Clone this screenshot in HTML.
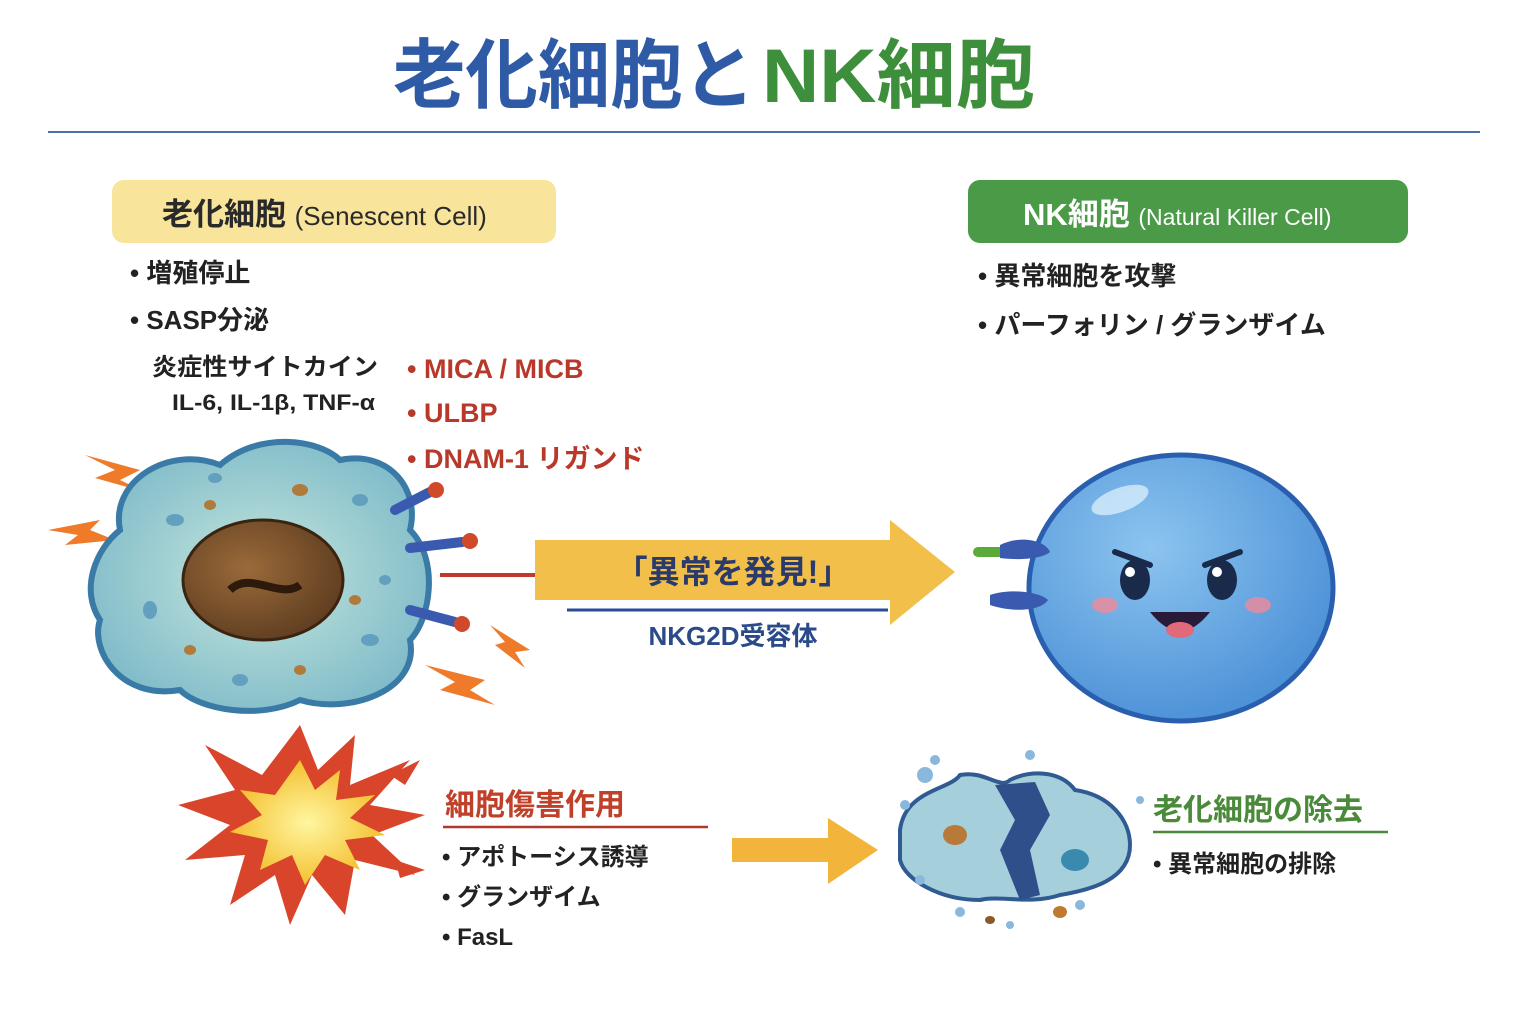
<!DOCTYPE html>
<html><head><meta charset="utf-8"><style>
html,body{margin:0;padding:0;background:#fff;}
svg{display:block;font-family:"Liberation Sans","Noto Sans CJK JP",sans-serif;}
</style></head><body>
<svg width="1534" height="1014" viewBox="0 0 1534 1014" xmlns="http://www.w3.org/2000/svg">
<defs>
<radialGradient id="nk" cx="0.4" cy="0.35" r="0.7"><stop offset="0" stop-color="#8cc4ef"/><stop offset="1" stop-color="#4a8fd6"/></radialGradient>
<radialGradient id="sc" cx="0.5" cy="0.5" r="0.6"><stop offset="0" stop-color="#c6e6dc"/><stop offset="1" stop-color="#7ab8c8"/></radialGradient>
<radialGradient id="nuc" cx="0.4" cy="0.4" r="0.7"><stop offset="0" stop-color="#9a6a3a"/><stop offset="1" stop-color="#5a3a1e"/></radialGradient>
<radialGradient id="boom" cx="0.5" cy="0.5" r="0.5"><stop offset="0" stop-color="#fff6a0"/><stop offset="1" stop-color="#f4c030"/></radialGradient>
</defs>
<text x="393" y="102" font-size="76" font-weight="bold" fill="#2f5aa6" textLength="362" lengthAdjust="spacingAndGlyphs">老化細胞と</text>
<text x="762" y="102" font-size="76" font-weight="bold" fill="#3e8f3c" textLength="273" lengthAdjust="spacingAndGlyphs">NK細胞</text>
<line x1="48" y1="132" x2="1480" y2="132" stroke="#4a6fb0" stroke-width="2"/>

<rect x="112" y="180" width="444" height="63" rx="12" fill="#f8e49a"/>
<text x="162" y="225" font-size="31" font-weight="bold" fill="#2a2a2a">老化細胞 <tspan font-size="26" font-weight="normal">(Senescent Cell)</tspan></text>
<rect x="968" y="180" width="440" height="63" rx="12" fill="#4a9a48"/>
<text x="1023" y="225" font-size="31" font-weight="bold" fill="#fff">NK細胞 <tspan font-size="23" font-weight="normal">(Natural Killer Cell)</tspan></text>

<g font-weight="bold" fill="#222">
<text x="130" y="282" font-size="26">• 増殖停止</text>
<text x="130" y="329" font-size="26">• SASP分泌</text>
<text x="152" y="375" font-size="24" textLength="226" lengthAdjust="spacingAndGlyphs">炎症性サイトカイン</text>
<text x="172" y="410" font-size="22" textLength="203" lengthAdjust="spacingAndGlyphs">IL-6, IL-1β, TNF-α</text>
</g>
<g font-weight="bold" fill="#b8382a" font-size="27">
<text x="407" y="378">• MICA / MICB</text>
<text x="407" y="422">• ULBP</text>
<text x="407" y="468">• DNAM-1 リガンド</text>
</g>
<g font-weight="bold" fill="#222" font-size="26">
<text x="978" y="285">• 異常細胞を攻撃</text>
<text x="978" y="334">• パーフォリン / グランザイム</text>
</g>

<g fill="#ee7a2a">
<polygon points="85,455 140,470 120,480 145,492 95,478 115,470"/>
<polygon points="48,530 100,520 90,530 115,540 65,545 78,535"/>
<polygon points="490,625 530,650 515,652 525,668 495,645 505,642"/>
<polygon points="425,665 485,680 470,690 495,705 440,690 455,682"/>
</g>

<path d="M120,530 C110,480 170,445 220,465 C260,430 320,440 340,460 C390,450 420,490 410,530 C440,560 430,620 410,640 C420,690 350,715 300,700 C260,720 200,710 180,690 C120,700 90,650 100,620 C80,590 95,550 120,530 Z" fill="url(#sc)" stroke="#3a7aa6" stroke-width="6"/>
<g fill="#5a98bc" opacity="0.85">
<ellipse cx="175" cy="520" rx="9" ry="6"/><ellipse cx="360" cy="500" rx="8" ry="6"/><ellipse cx="150" cy="610" rx="7" ry="9"/><ellipse cx="370" cy="640" rx="9" ry="6"/><ellipse cx="240" cy="680" rx="8" ry="6"/><ellipse cx="330" cy="560" rx="6" ry="8"/><ellipse cx="215" cy="478" rx="7" ry="5"/><ellipse cx="385" cy="580" rx="6" ry="5"/>
</g>
<g fill="#b07a3a"><ellipse cx="300" cy="490" rx="8" ry="6"/><ellipse cx="210" cy="505" rx="6" ry="5"/><ellipse cx="355" cy="600" rx="6" ry="5"/><ellipse cx="190" cy="650" rx="6" ry="5"/><ellipse cx="300" cy="670" rx="6" ry="5"/></g>
<ellipse cx="263" cy="580" rx="80" ry="60" fill="url(#nuc)" stroke="#3a2410" stroke-width="3"/>
<path d="M230,590 C250,570 280,600 300,585" stroke="#2e1a0a" stroke-width="8" fill="none"/>
<g stroke-linecap="round">
<line x1="395" y1="510" x2="430" y2="492" stroke="#3a5ab0" stroke-width="10"/><circle cx="436" cy="490" r="8" fill="#d04a2a"/>
<line x1="410" y1="548" x2="462" y2="542" stroke="#3a5ab0" stroke-width="10"/><circle cx="470" cy="541" r="8" fill="#d04a2a"/>
<line x1="410" y1="610" x2="455" y2="622" stroke="#3a5ab0" stroke-width="10"/><circle cx="462" cy="624" r="8" fill="#d04a2a"/>
</g>
<line x1="440" y1="575" x2="555" y2="575" stroke="#c0392b" stroke-width="4"/>

<polygon points="535,540 890,540 890,520 955,572 890,625 890,600 535,600" fill="#f2c04a"/>
<text x="733" y="583" font-size="32" font-weight="bold" fill="#2a3a6a" text-anchor="middle">「異常を発見!」</text>
<line x1="567" y1="610" x2="888" y2="610" stroke="#2a4a9a" stroke-width="3"/>
<text x="733" y="645" font-size="26" font-weight="bold" fill="#2a4a8a" text-anchor="middle">NKG2D受容体</text>

<ellipse cx="1181" cy="588" rx="152" ry="133" fill="url(#nk)" stroke="#2a5fb0" stroke-width="5"/>
<ellipse cx="1120" cy="500" rx="30" ry="12" fill="#d6ecfb" opacity="0.8" transform="rotate(-20 1120 500)"/>
<g stroke-linecap="round">
<line x1="978" y1="552" x2="1015" y2="552" stroke="#5aaa3a" stroke-width="10"/>
<path d="M1000,545 C1020,535 1045,540 1050,552 C1040,560 1015,560 1000,558" fill="#3a5ab0"/>
<path d="M990,595 C1010,588 1040,592 1048,600 C1040,612 1010,612 990,605 Z" fill="#3a5ab0"/>
</g>
<ellipse cx="1135" cy="580" rx="15" ry="20" fill="#1a2a4a"/><circle cx="1130" cy="572" r="5" fill="#fff"/>
<ellipse cx="1222" cy="580" rx="15" ry="20" fill="#1a2a4a"/><circle cx="1217" cy="572" r="5" fill="#fff"/>
<path d="M1115,552 L1150,565" stroke="#1a2a4a" stroke-width="6" stroke-linecap="round"/>
<path d="M1240,552 L1205,565" stroke="#1a2a4a" stroke-width="6" stroke-linecap="round"/>
<path d="M1150,612 Q1180,650 1210,612 Z" fill="#2a1a3a"/>
<ellipse cx="1180" cy="630" rx="14" ry="8" fill="#e06a7a"/>
<ellipse cx="1105" cy="605" rx="13" ry="8" fill="#f08a9a" opacity="0.8"/>
<ellipse cx="1258" cy="605" rx="13" ry="8" fill="#f08a9a" opacity="0.8"/>

<polygon points="300,725 318,770 355,735 350,785 410,760 370,805 425,815 372,835 415,875 355,860 345,915 312,875 290,925 275,875 230,905 245,855 185,860 230,825 178,805 235,790 205,745 262,775" fill="#d9452a"/>
<polygon points="300,760 315,790 340,770 336,800 375,795 350,818 385,835 345,840 360,870 325,855 305,885 292,855 260,870 268,840 230,832 262,815 240,790 275,795" fill="url(#boom)"/>
<polygon points="390,775 420,760 405,785" fill="#d9452a"/>
<polygon points="395,860 425,870 400,878" fill="#d9452a"/>

<text x="445" y="815" font-size="30" font-weight="bold" fill="#c0402a">細胞傷害作用</text>
<line x1="443" y1="827" x2="708" y2="827" stroke="#b03a2a" stroke-width="2.5"/>
<g font-size="24" font-weight="bold" fill="#222">
<text x="442" y="865">• アポトーシス誘導</text>
<text x="442" y="905">• グランザイム</text>
<text x="442" y="945">• FasL</text>
</g>
<polygon points="732,838 828,838 828,818 878,850 828,884 828,862 732,862" fill="#f2b43a"/>

<path d="M900,830 C905,790 950,790 960,775 C985,770 1000,790 1010,780 C1030,770 1060,770 1075,790 C1110,795 1130,820 1130,845 C1130,880 1090,890 1060,895 C1030,905 1000,895 980,900 C940,900 905,880 900,860 Z" fill="#a6cfdc" stroke="#2f5a92" stroke-width="4"/>
<path d="M995,785 L1015,820 L1000,850 L1020,900 L1040,895 L1030,850 L1050,815 L1035,782 Z" fill="#2f4f8a"/>
<ellipse cx="955" cy="835" rx="12" ry="10" fill="#b87a3a"/>
<ellipse cx="1075" cy="860" rx="14" ry="11" fill="#3a8ab0"/>
<g fill="#8ab8dc">
<circle cx="925" cy="775" r="8"/><circle cx="935" cy="760" r="5"/><circle cx="1030" cy="755" r="5"/><circle cx="905" cy="805" r="5"/><circle cx="1140" cy="800" r="4"/><circle cx="920" cy="880" r="5"/><circle cx="960" cy="912" r="5"/><circle cx="1080" cy="905" r="5"/><circle cx="1010" cy="925" r="4"/>
</g>
<ellipse cx="1060" cy="912" rx="7" ry="6" fill="#c07a30"/><ellipse cx="990" cy="920" rx="5" ry="4" fill="#8a5a2a"/>

<text x="1153" y="820" font-size="30" font-weight="bold" fill="#4a8a3a">老化細胞の除去</text>
<line x1="1153" y1="832" x2="1388" y2="832" stroke="#4a8a3a" stroke-width="2.5"/>
<text x="1153" y="872" font-size="24" font-weight="bold" fill="#222">• 異常細胞の排除</text>
</svg>
</body></html>
